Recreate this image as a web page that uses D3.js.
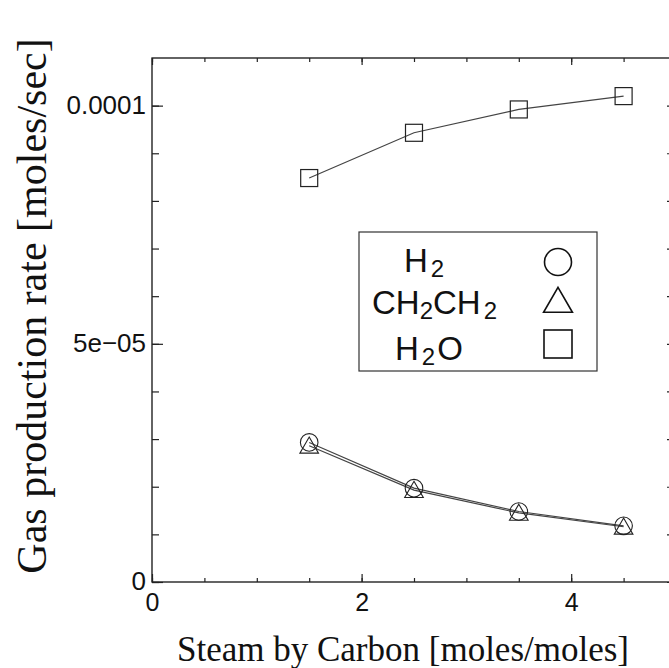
<!DOCTYPE html>
<html>
<head>
<meta charset="utf-8">
<script src="https://cdn.jsdelivr.net/npm/d3@7"></script>
<style>
  body { margin: 0; background: #fff; }
  svg { display: block; }
</style>
</head>
<body>
<div id="chart"></div>
<script>
// Values
const steamByCarbon = [1.5, 2.5, 3.5, 4.5];
const h2Rate = [2.93e-5, 1.97e-5, 1.48e-5, 1.18e-5];
const ch2ch2Rate = [2.86e-5, 1.93e-5, 1.45e-5, 1.16e-5];
const h2oRate = [8.48e-5, 9.43e-5, 9.92e-5, 1.02e-4];

const xTicks = [0, 2, 4];
const xMinorTicks = d3.range(0, 5.01, 0.5);
const yTicks = [0, 5e-5, 1e-4];
const yTickLabels = ["0", "5e\u221205", "0.0001"];
const yMinorTicks = d3.range(0, 11).map(i => i * 1e-5);

const width = 669, height = 668;
const margin = { top: 58, left: 152, bottom: 86 };

const svg = d3.select("#chart")
    .append("svg")
    .attr("width", width)
    .attr("height", height);

const x = d3.scaleLinear().domain([0, 5]).range([margin.left, 676]);
const y = d3.scaleLinear().domain([0, 1.1e-4]).range([height - margin.bottom, margin.top]);

const tickFont = "'Liberation Sans', Arial, sans-serif";
const titleFont = "'Liberation Serif', 'Times New Roman', serif";

// frame
svg.append("rect")
    .attr("x", x(0)).attr("y", y(1.1e-4))
    .attr("width", x(5) - x(0)).attr("height", y(0) - y(1.1e-4))
    .attr("fill", "none").attr("stroke", "#111").attr("stroke-width", 1.3);

function styleAxis(g) {
    g.select(".domain").remove();
    g.selectAll(".tick line").attr("stroke", "#222").attr("stroke-width", 1.2);
    g.selectAll("text").attr("fill", "#111").attr("font-family", tickFont);
}

// bottom minor + major
svg.append("g").attr("transform", `translate(0,${y(0)})`)
    .call(d3.axisBottom(x).tickValues(xMinorTicks).tickSize(-4).tickFormat(""))
    .call(styleAxis);
svg.append("g").attr("transform", `translate(0,${y(0)})`)
    .call(d3.axisBottom(x).tickValues(xTicks).tickSize(-8).tickPadding(11).tickFormat(d3.format("d")))
    .call(styleAxis)
    .call(g => g.selectAll("text").attr("font-size", 25));

// top
svg.append("g").attr("transform", `translate(0,${y(1.1e-4)})`)
    .call(d3.axisTop(x).tickValues(xMinorTicks).tickSize(-4).tickFormat(""))
    .call(styleAxis);
svg.append("g").attr("transform", `translate(0,${y(1.1e-4)})`)
    .call(d3.axisTop(x).tickValues(xTicks).tickSize(-7).tickFormat(""))
    .call(styleAxis);

// left
svg.append("g").attr("transform", `translate(${x(0)},0)`)
    .call(d3.axisLeft(y).tickValues(yMinorTicks).tickSize(-7).tickFormat(""))
    .call(styleAxis);
svg.append("g").attr("transform", `translate(${x(0)},0)`)
    .call(d3.axisLeft(y).tickValues(yTicks).tickSize(-11).tickPadding(6)
        .tickFormat((d, i) => yTickLabels[i]))
    .call(styleAxis)
    .call(g => g.selectAll("text").attr("font-size", 26).attr("dy", "0.3em"));

// right
svg.append("g").attr("transform", `translate(${x(5)},0)`)
    .call(d3.axisRight(y).tickValues(yMinorTicks).tickSize(-9).tickFormat(""))
    .call(styleAxis);

// axis titles
svg.append("text")
    .attr("x", 403)
    .attr("y", 661)
    .attr("text-anchor", "middle")
    .attr("font-family", titleFont)
    .attr("font-size", 35)
    .attr("fill", "#111")
    .text("Steam by Carbon [moles/moles]");

svg.append("text")
    .attr("transform", "translate(46,306) rotate(-90)")
    .attr("text-anchor", "middle")
    .attr("font-family", titleFont)
    .attr("font-size", 42)
    .attr("fill", "#111")
    .text("Gas production rate [moles/sec]");

// lines
const line = d3.line().x((d, i) => x(steamByCarbon[i])).y(d => y(d));
[h2Rate, ch2ch2Rate, h2oRate].forEach(series => {
    svg.append("path")
        .datum(series)
        .attr("d", line)
        .attr("fill", "none")
        .attr("stroke", "#444")
        .attr("stroke-width", 1.2);
});

// markers
svg.selectAll(".h2")
    .data(h2Rate)
    .enter()
    .append("circle")
    .attr("cx", (d, i) => x(steamByCarbon[i]))
    .attr("cy", d => y(d))
    .attr("r", 8.8)
    .attr("fill", "none").attr("stroke", "#222").attr("stroke-width", 1.1);

const tri = d3.symbol().type(d3.symbolTriangle).size(150);
svg.selectAll(".ch2")
    .data(ch2ch2Rate)
    .enter()
    .append("path")
    .attr("d", tri)
    .attr("transform", (d, i) => `translate(${x(steamByCarbon[i])},${y(d) + 2})`)
    .attr("fill", "none").attr("stroke", "#222").attr("stroke-width", 1.1);

svg.selectAll(".h2o")
    .data(h2oRate)
    .enter()
    .append("rect")
    .attr("x", (d, i) => x(steamByCarbon[i]) - 8.5)
    .attr("y", d => y(d) - 8.5)
    .attr("width", 17).attr("height", 17)
    .attr("fill", "none").attr("stroke", "#222").attr("stroke-width", 1.2);

// legend
const legend = svg.append("g");
legend.append("rect")
    .attr("x", 359).attr("y", 232)
    .attr("width", 238).attr("height", 139)
    .attr("fill", "#fff").attr("stroke", "#333").attr("stroke-width", 1.2);

function formula(parts, tx, ty) {
    const t = legend.append("text")
        .attr("x", tx).attr("y", ty)
        .attr("font-family", tickFont)
        .attr("font-size", 33)
        .attr("fill", "#111");
    parts.forEach(p => {
        t.append("tspan")
            .attr("font-size", p.sub ? 24 : 33)
            .attr("dy", p.dy || 0)
            .attr("dx", p.dx || 0)
            .text(p.t);
    });
}
formula([{ t: "H" }, { t: "2", sub: true, dy: 5, dx: 3 }], 404, 272);
formula([{ t: "CH" }, { t: "2", sub: true, dy: 5 }, { t: "CH", dy: -5 }, { t: "2", sub: true, dy: 5, dx: 3 }], 372, 314);
formula([{ t: "H" }, { t: "2", sub: true, dy: 5, dx: 3 }, { t: "O", dy: -5, dx: 2 }], 395, 360);

legend.append("circle")
    .attr("cx", 558).attr("cy", 262).attr("r", 13.5)
    .attr("fill", "none").attr("stroke", "#111").attr("stroke-width", 1.6);
legend.append("path")
    .attr("d", d3.symbol().type(d3.symbolTriangle).size(360))
    .attr("transform", "translate(558,304)")
    .attr("fill", "none").attr("stroke", "#111").attr("stroke-width", 1.6);
legend.append("rect")
    .attr("x", 544).attr("y", 330).attr("width", 28).attr("height", 28)
    .attr("fill", "none").attr("stroke", "#111").attr("stroke-width", 1.6);
</script>
</body>
</html>
